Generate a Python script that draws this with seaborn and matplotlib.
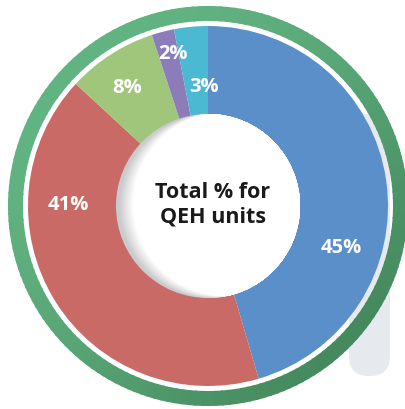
import matplotlib
matplotlib.use('Agg')
import matplotlib.pyplot as plt
import seaborn as sns
import numpy as np
from matplotlib.patches import Wedge, Circle, FancyBboxPatch
from matplotlib.colors import to_rgb

# 数据
categories = ['Blue', 'Red', 'Green', 'Purple', 'Teal']
values = [45, 41, 8, 2, 3]
labels = ['45%', '41%', '8%', '2%', '3%']
colors = ['#5b8fca', '#c96a66', '#a0c67b', '#8c7cb9', '#4bb9d2']
center_text = 'Total % for\nQEH units'

sns.set_theme(style='white')
plt.rcParams['font.family'] = ['Open Sans', 'DejaVu Sans']

fig = plt.figure(figsize=(4.06, 4.10), dpi=100)
ax = fig.add_axes([0, 0, 1, 1])

cx, cy = 208, 203

# 甜甜圈
wedges, _ = ax.pie(values, colors=colors, startangle=90, counterclock=False,
                   radius=180, center=(cx, cy), frame=True,
                   wedgeprops=dict(width=180, edgecolor='none'))
for w in wedges:
    w.set_zorder(2)
ax.set_xlim(0, 406)
ax.set_ylim(0, 410)
ax.set_aspect('equal')
ax.axis('off')

# 背景灰色圆角条
bg = FancyBboxPatch((349, 33), 41, 262, boxstyle='round,pad=0,rounding_size=20',
                    facecolor='#e6eaee', edgecolor='none', zorder=0)
ax.add_patch(bg)

# 外圈绿色环（渐变）
c1 = np.array(to_rgb('#62b382'))
c2 = np.array(to_rgb('#458a5e'))
n = 180
for k in range(n):
    a0 = k * 360 / n
    mid = np.deg2rad(a0 + 1)
    t = (1 - np.cos(mid - np.deg2rad(135))) / 2
    t = t ** 1.5
    col = c1 * (1 - t) + c2 * t
    ax.add_patch(Wedge((cx, cy), 200, a0, a0 + 360 / n + 0.6, width=15,
                       facecolor=col, edgecolor='none', zorder=1))

# 百分比标签（半径, 角度）
label_pos = [(139, -17), (140, 179), (144, 124), (157, 103), (120, 92)]
for lab, (r, a) in zip(labels, label_pos):
    ang = np.deg2rad(a)
    ax.text(cx + r * np.cos(ang), cy + r * np.sin(ang), lab, color='white',
            fontsize=14.5, fontweight='bold', ha='center', va='center', zorder=5)

# 中心圆（左侧阴影）
hole = Circle((cx, cy), 92, facecolor='#c9cbce', edgecolor='none', zorder=3)
ax.add_patch(hole)
steps = 16
for k in range(steps):
    t = (k + 1) / steps
    g = 0.80 + 0.20 * t
    circ = Circle((cx + 3 + 14 * t, cy + 2 * t), 92, facecolor=(g, g, min(1, g + 0.005)),
                  edgecolor='none', zorder=3)
    circ.set_clip_path(hole)
    ax.add_patch(circ)

ax.text(cx + 5, cy + 2, center_text, color='#1a1a1a', fontsize=15.5, fontweight='bold',
        ha='center', va='center', linespacing=1.2, zorder=6)

fig.savefig('out.png', dpi=100)
